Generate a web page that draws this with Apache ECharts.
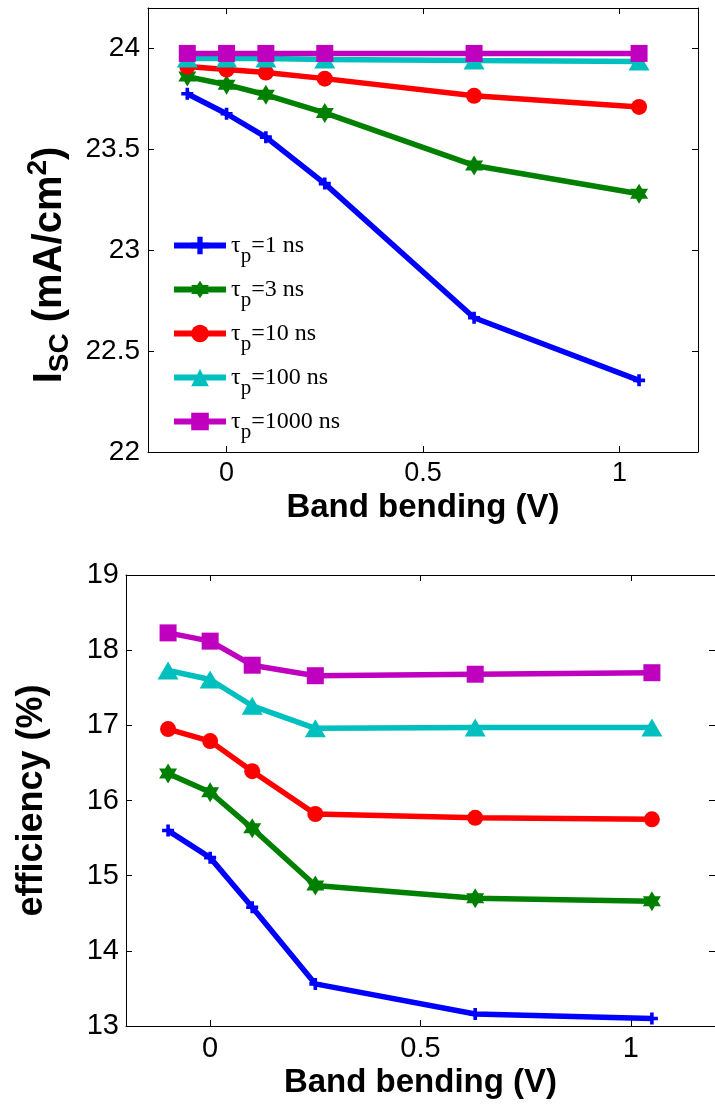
<!DOCTYPE html>
<html>
<head>
<meta charset="utf-8">
<script src="https://cdn.jsdelivr.net/npm/echarts@6/dist/echarts.min.js"></script>
<style>
  html, body { margin: 0; padding: 0; background: #fff; }
  #chart { width: 715px; height: 1106px; }
</style>
</head>
<body>
<div id="chart"></div>
<script>
// data
const bandBending = [-0.1, 0, 0.1, 0.25, 0.63, 1.05];
const tauValues = [1, 3, 10, 100, 1000];

const isc1 = [23.775, 23.676, 23.56, 23.33, 22.665, 22.355];
const isc3 = [23.86, 23.82, 23.77, 23.68, 23.42, 23.28];
const isc10 = [23.91, 23.895, 23.88, 23.85, 23.765, 23.71];
const isc100 = [23.95, 23.95, 23.95, 23.945, 23.94, 23.935];
const isc1000 = [23.975, 23.975, 23.975, 23.975, 23.975, 23.975];

const eff1 = [15.6, 15.24, 14.58, 13.56, 13.16, 13.1];
const eff3 = [16.36, 16.11, 15.63, 14.87, 14.7, 14.66];
const eff10 = [16.95, 16.79, 16.39, 15.82, 15.77, 15.75];
const eff100 = [17.73, 17.61, 17.26, 16.96, 16.97, 16.97];
const eff1000 = [18.23, 18.12, 17.8, 17.66, 17.68, 17.7];

const xTicks = [0, 0.5, 1];
const iscTicks = [22, 22.5, 23, 23.5, 24];
const effTicks = [13, 14, 15, 16, 17, 18, 19];

const colors = ['#0000ff', '#008000', '#ff0000', '#00bfbf', '#bf00bf'];
const plusPath = 'path://M3.5,0H6.5V3.5H10V6.5H6.5V10H3.5V6.5H0V3.5H3.5Z';
const hexPath = 'path://M5,0L9.33,7.5L0.67,7.5Z M5,10L0.67,2.5L9.33,2.5Z';
const symbols = [plusPath, hexPath, 'circle', 'triangle', 'rect'];
const symbolSizes = [12, [18, 20], 16, [21, 18], 17];

const sans = 'Liberation Sans, Arial, sans-serif';
const serif = 'Liberation Serif, Times New Roman, serif';
const names = tauValues.map(v => 'τp=' + v + ' ns');

const chart = echarts.init(document.getElementById('chart'));

function makeSeries (values, i, xi, yi) {
  return {
    name: names[i],
    type: 'line',
    xAxisIndex: xi,
    yAxisIndex: yi,
    data: bandBending.map((x, j) => [x, values[j]]),
    symbol: symbols[i],
    symbolSize: symbolSizes[i],
    showAllSymbol: true,
    lineStyle: { width: 5.5, color: colors[i] },
    itemStyle: { color: colors[i] },
    animation: false
  };
}

function boxAxis (grid, pos, min, max, ticks, extra) {
  return Object.assign({
    type: 'value',
    gridIndex: grid,
    position: pos,
    min: min,
    max: max,
    splitLine: { show: false },
    axisLine: { show: true, onZero: false, lineStyle: { color: '#000', width: 1 } },
    axisTick: { show: true, inside: true, length: 6, customValues: ticks, lineStyle: { color: '#000' } },
    axisLabel: { show: false, customValues: ticks }
  }, extra || {});
}

const labelStyle = (size, ticks, margin) => ({
  show: true, color: '#000', fontFamily: sans, fontSize: size, margin: margin, customValues: ticks
});
const nameStyle = size => ({ color: '#000', fontFamily: sans, fontSize: size, fontWeight: 'bold' });

const option = {
  backgroundColor: '#fff',
  grid: [
    { left: 148, top: 8, width: 550, height: 444 },
    { left: 126, top: 575, width: 595, height: 451 }
  ],
  legend: {
    left: 166,
    top: 219,
    orient: 'vertical',
    itemWidth: 52,
    itemHeight: 22,
    itemGap: 1,
    selectedMode: false,
    lineStyle: { width: 6 },
    data: names,
    formatter: name => {
      const v = tauValues[names.indexOf(name)];
      return '{t|τ}{s|p}{t|=' + v + ' ns}';
    },
    textStyle: {
      rich: {
        t: { fontFamily: serif, fontSize: 24, color: '#000', lineHeight: 24 },
        s: { fontFamily: serif, fontSize: 21, color: '#000', lineHeight: 20, padding: [22, 0, 0, 0] }
      }
    }
  },
  xAxis: [
    boxAxis(0, 'bottom', -0.2, 1.2, xTicks, {
      axisLabel: labelStyle(27, xTicks, 8),
      name: 'Band bending (V)',
      nameLocation: 'middle',
      nameGap: 39,
      nameTextStyle: nameStyle(33)
    }),
    boxAxis(0, 'top', -0.2, 1.2, xTicks),
    boxAxis(1, 'bottom', -0.2, 1.2, xTicks, {
      axisLabel: labelStyle(29, xTicks, 8),
      name: 'Band bending (V)',
      nameLocation: 'middle',
      nameGap: 40,
      nameTextStyle: nameStyle(33)
    }),
    boxAxis(1, 'top', -0.2, 1.2, xTicks)
  ],
  yAxis: [
    boxAxis(0, 'left', 22, 24.2, iscTicks, {
      axisLabel: labelStyle(28, iscTicks, 8),
      name: '{b|I}{s|SC}{b| (mA/cm}{u|2}{b|)}',
      nameLocation: 'middle',
      nameGap: 66,
      nameTextStyle: {
        padding: [0, 70, 0, 0],
        rich: {
          b: { fontFamily: sans, fontSize: 40, fontWeight: 'bold', color: '#000', lineHeight: 40 },
          s: { fontFamily: sans, fontSize: 28, fontWeight: 'bold', color: '#000', lineHeight: 26, padding: [22, 0, 0, 0] },
          u: { fontFamily: sans, fontSize: 28, fontWeight: 'bold', color: '#000', lineHeight: 26, padding: [0, 0, 22, 0] }
        }
      }
    }),
    boxAxis(0, 'right', 22, 24.2, iscTicks),
    boxAxis(1, 'left', 13, 19, effTicks, {
      axisLabel: labelStyle(29, effTicks, 7),
      name: 'efficiency (%)',
      nameLocation: 'middle',
      nameGap: 76,
      nameTextStyle: nameStyle(36)
    }),
    boxAxis(1, 'right', 13, 19, effTicks)
  ],
  series: [
    makeSeries(isc1, 0, 0, 0),
    makeSeries(isc3, 1, 0, 0),
    makeSeries(isc10, 2, 0, 0),
    makeSeries(isc100, 3, 0, 0),
    makeSeries(isc1000, 4, 0, 0),
    makeSeries(eff1, 0, 2, 2),
    makeSeries(eff3, 1, 2, 2),
    makeSeries(eff10, 2, 2, 2),
    makeSeries(eff100, 3, 2, 2),
    makeSeries(eff1000, 4, 2, 2)
  ]
};

chart.setOption(option);
</script>
</body>
</html>
